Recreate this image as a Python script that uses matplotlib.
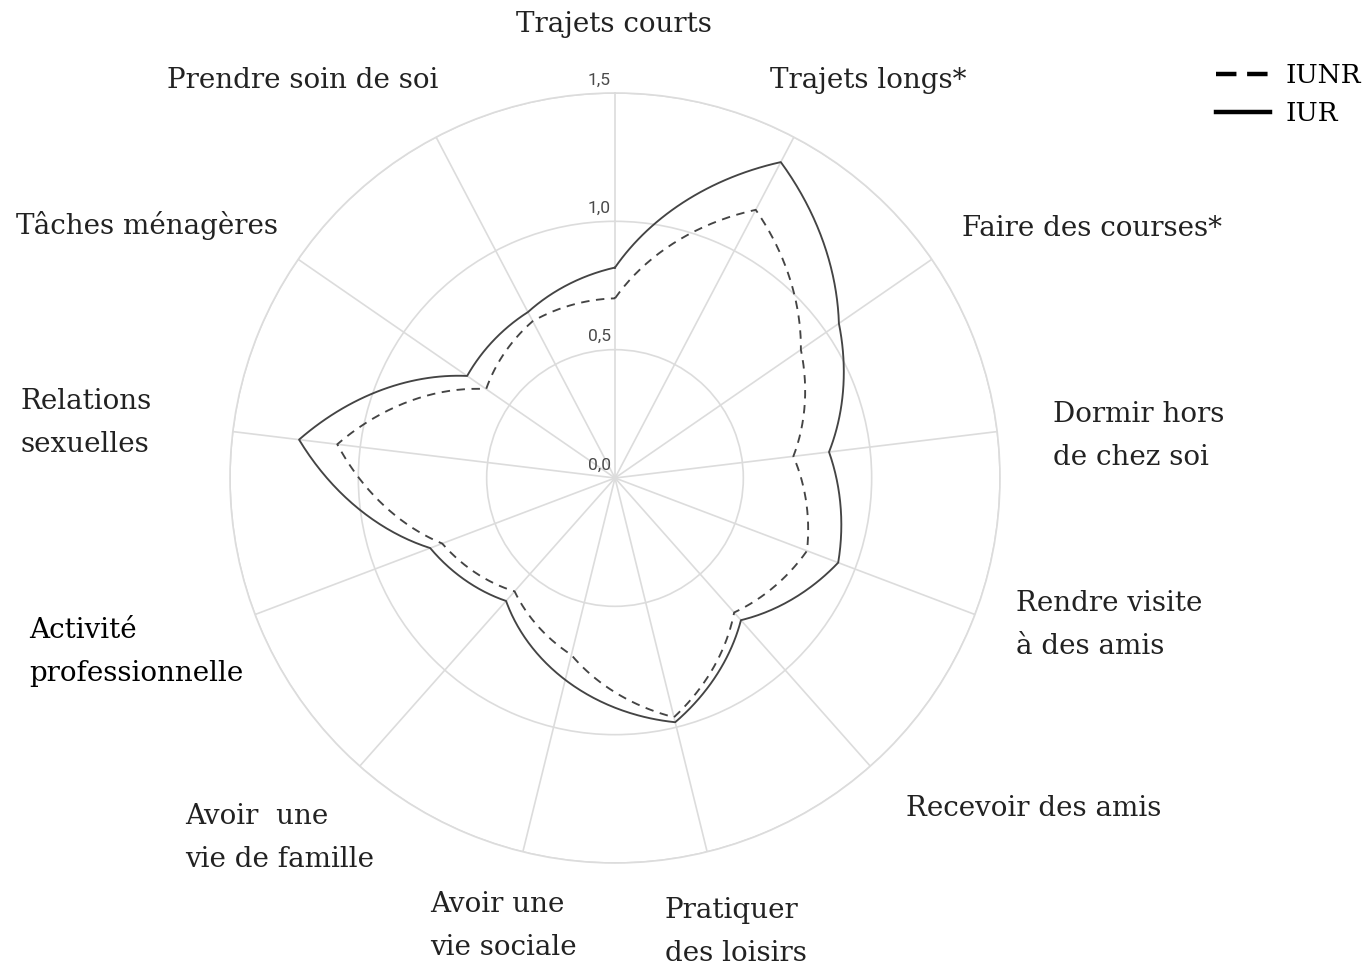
import numpy as np
import matplotlib
matplotlib.use("Agg")
import matplotlib.pyplot as plt
from matplotlib.lines import Line2D

# --- Data ---
categories = [
    "Trajets courts", "Trajets longs*", "Faire des courses*",
    "Dormir hors\nde chez soi", "Rendre visite\nà des amis", "Recevoir des amis",
    "Pratiquer\ndes loisirs", "Avoir une\nvie sociale", "Avoir  une\nvie de famille",
    "Activité\nprofessionnelle", "Relations\nsexuelles", "Tâches ménagères",
    "Prendre soin de soi",
]
iunr = [0.70, 1.18, 0.88, 0.70, 0.80, 0.70, 0.96, 0.71, 0.59, 0.72, 1.09, 0.61, 0.69]
iur = [0.82, 1.39, 1.06, 0.84, 0.93, 0.74, 0.98, 0.81, 0.64, 0.77, 1.24, 0.70, 0.73]
r_ticks = [0.0, 0.5, 1.0, 1.5]

# --- Layout (pixel positions of category labels in a 1372x968 image) ---
W, H = 1372, 968
label_pos = [
    (614, 25, "center"), (868, 80, "center"), (1092, 228, "center"),
    (1053, 436, "left"), (1016, 625, "left"), (1034, 808, "center"),
    (665, 932, "left"), (430, 926, "left"), (185, 838, "left"),
    (29, 652, "left"), (21, 423, "left"), (147, 225, "center"),
    (303, 80, "center"),
]
cx, cy, rad = 615, 478, 385

fig = plt.figure(figsize=(W / 100, H / 100), dpi=100)
ax = fig.add_axes([(cx - rad) / W, (H - cy - rad) / H, 2 * rad / W, 2 * rad / H],
                  projection="polar")
ax.set_theta_zero_location("N")
ax.set_theta_direction(-1)

n = len(categories)
theta = np.arange(n) * 2 * np.pi / n
th = np.append(theta, 2 * np.pi)  # close the loop going forward

line_col = "#444444"
l1, = ax.plot(th, iur + iur[:1], color=line_col, lw=1.35)
l2, = ax.plot(th, iunr + iunr[:1], color=line_col, lw=1.35, dashes=(4.5, 3.5))
# draw segments as curves in polar space (like the original)
for ln in (l1, l2):
    ln.get_path()._interpolation_steps = 60

ax.set_ylim(0, 1.5)
ax.set_xticks(theta)
ax.set_xticklabels([])
ax.set_yticks(r_ticks)
ax.set_yticklabels([])
ax.grid(color="#dcdcdc", lw=1.2)
ax.spines["polar"].set_color("#dcdcdc")
ax.spines["polar"].set_linewidth(1.2)

for r in r_ticks:
    ax.annotate(f"{r:.1f}".replace(".", ","), xy=(0, r), xytext=(-3, 4),
                textcoords="offset points", ha="right", va="bottom",
                fontsize=12.5, color="#4a4a4a", family="Roboto")

serif = ["DejaVu Serif"]
for lab, (x, y, ha) in zip(categories, label_pos):
    col = "black" if lab.startswith("Activit") else "#222222"
    fig.text(x / W, 1 - y / H, lab, ha=ha, va="center", fontsize=20,
             family=serif, color=col, linespacing=1.78)

handles = [Line2D([], [], color="black", lw=3.2, dashes=(4.6, 2.4)),
           Line2D([], [], color="black", lw=3.2)]
fig.legend(handles, ["IUNR", "IUR"], loc="upper left",
           bbox_to_anchor=(1216 / W, 1 - 63 / H), frameon=False,
           prop={"family": serif, "size": 19}, handlelength=2.05,
           handletextpad=0.6, labelspacing=0.5, borderpad=0,
           borderaxespad=0)

fig.savefig("out.png", dpi=100)
